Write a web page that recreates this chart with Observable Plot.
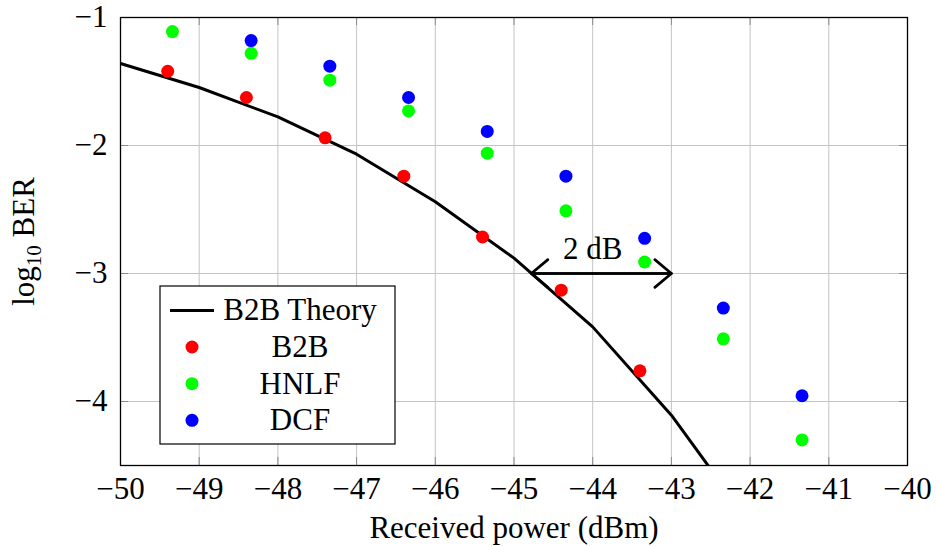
<!DOCTYPE html>
<html><head><meta charset="utf-8">
<script src="https://cdn.jsdelivr.net/npm/d3@7"></script>
<script src="https://cdn.jsdelivr.net/npm/@observablehq/plot@0.6"></script>
<style>body{margin:0;background:#fff;} svg{display:block}</style>
</head><body><div id="chart"></div>
<script>
// ---- data ----
const theoryX = [-50, -49, -48, -47, -46, -45, -44, -43, -42];
const theoryY = [-1.359, -1.547, -1.777, -2.068, -2.44, -2.88, -3.417, -4.107, -4.95];
const b2bX = [-49.40, -48.40, -47.40, -46.40, -45.40, -44.40, -43.40];
const b2bY = [-1.42, -1.625, -1.94, -2.24, -2.715, -3.13, -3.76];
const hnlfX = [-49.34, -48.34, -47.34, -46.34, -45.34, -44.34, -43.34, -42.34, -41.34];
const hnlfY = [-1.11, -1.28, -1.49, -1.73, -2.06, -2.51, -2.91, -3.51, -4.30];
const dcfX = [-48.34, -47.34, -46.34, -45.34, -44.34, -43.34, -42.34, -41.34];
const dcfY = [-1.18, -1.38, -1.625, -1.89, -2.24, -2.725, -3.27, -3.955];
const seriesNames = ["B2B Theory", "B2B", "HNLF", "DCF"];
const seriesColors = ["#000000", "#ff0000", "#00ff00", "#0000ff"];
const xTicks = [-50, -49, -48, -47, -46, -45, -44, -43, -42, -41, -40];
const yTicks = [-4, -3, -2, -1];
const arrowX = [-44.78, -43];
const arrowY = [-3, -3];
const arrowLabel = "2 dB";
const arrowLabelX = -44.0;
const xLabel = "Received power (dBm)";
const yLabel = "log10 BER";

// ---- layout ----
const W = 939, H = 547;
const mL = 120, mR = 32, mT = 17, mB = 82;
const plotW = W - mL - mR, plotH = H - mT - mB;
const FONT = "'Liberation Serif', 'Times New Roman', serif";
const FS = 31;
const tickLen = 8;
const fmt = d => String(d).replace("-", "\u2212");

const theory = theoryX.map((x, i) => ({x, y: theoryY[i]}));
const pts = (xs, ys) => xs.map((x, i) => ({x, y: ys[i]}));
const arrow = [{x1: arrowX[0], x2: arrowX[1], y1: arrowY[0], y2: arrowY[1]}];

const chart = Plot.plot({
  width: W, height: H,
  marginLeft: mL, marginRight: mR, marginTop: mT, marginBottom: mB,
  style: {fontFamily: FONT, fontSize: FS + "px", background: "white", color: "black"},
  x: {domain: [-50, -40]},
  y: {domain: [-4.5, -1]},
  marks: [
    Plot.gridX(xTicks, {stroke: "#c4c4c4", strokeOpacity: 1, strokeWidth: 1}),
    Plot.gridY(yTicks, {stroke: "#c4c4c4", strokeOpacity: 1, strokeWidth: 1}),
    Plot.tickX(xTicks, {x: d => d, insetTop: plotH - tickLen, stroke: "#8a8a8a", strokeWidth: 1}),
    Plot.tickX(xTicks, {x: d => d, insetBottom: plotH - tickLen, stroke: "#8a8a8a", strokeWidth: 1}),
    Plot.tickY(yTicks, {y: d => d, insetRight: plotW - tickLen, stroke: "#8a8a8a", strokeWidth: 1}),
    Plot.tickY(yTicks, {y: d => d, insetLeft: plotW - tickLen, stroke: "#8a8a8a", strokeWidth: 1}),
    Plot.axisX(xTicks, {tickSize: 0, tickPadding: 11, fontSize: FS, label: null, tickFormat: fmt}),
    Plot.axisY(yTicks, {tickSize: 0, tickPadding: 13, fontSize: FS, label: null, tickFormat: fmt}),
    Plot.line(theory, {x: "x", y: "y", stroke: seriesColors[0], strokeWidth: 3, clip: true}),
    Plot.dot(pts(b2bX, b2bY), {x: "x", y: "y", r: 6.5, fill: seriesColors[1], stroke: null}),
    Plot.dot(pts(hnlfX, hnlfY), {x: "x", y: "y", r: 6.5, fill: seriesColors[2], stroke: null}),
    Plot.dot(pts(dcfX, dcfY), {x: "x", y: "y", r: 6.5, fill: seriesColors[3], stroke: null}),
    Plot.arrow(arrow, {x1: "x2", y1: "y2", x2: "x1", y2: "y1", stroke: "black", strokeWidth: 2.7, headLength: 12, headAngle: 80}),
    Plot.arrow(arrow, {x1: "x1", y1: "y1", x2: "x2", y2: "y2", stroke: "black", strokeWidth: 2.7, headLength: 12, headAngle: 80}),
    Plot.text([arrowLabel], {x: arrowLabelX, y: arrowY[0], text: d => d, dy: -24, fontSize: FS, fill: "black", textAnchor: "middle", lineAnchor: "middle"}),
    Plot.text([xLabel], {frameAnchor: "bottom", text: d => d, dy: 63, fontSize: FS, fill: "black", textAnchor: "middle", lineAnchor: "middle"}),
    Plot.text([yLabel], {frameAnchor: "left", text: d => d, rotate: -90, dx: -96, fontSize: FS, fill: "black", textAnchor: "middle", lineAnchor: "middle"}),
    Plot.frame({stroke: "black", strokeWidth: 1.3})
  ]
});

const svg = d3.select(chart);
// subscript for y label
svg.selectAll("text").filter(function() { return this.textContent === yLabel; }).each(function() {
  const t = d3.select(this);
  t.text(null);
  t.append("tspan").text("log");
  t.append("tspan").attr("font-size", 21).attr("dy", 7).text("10");
  t.append("tspan").attr("dy", -7).text(" BER");
});

// legend
const lg = svg.append("g").attr("font-family", FONT).attr("font-size", FS);
const bx = 160, by = 286, bw = 235, bh = 158;
lg.append("rect").attr("x", bx).attr("y", by).attr("width", bw).attr("height", bh)
  .attr("fill", "white").attr("stroke", "black").attr("stroke-width", 1.2);
const rowY = [310.5, 347, 383.7, 420.3];
seriesNames.forEach((name, i) => {
  const y = rowY[i];
  if (i === 0) {
    lg.append("line").attr("x1", 170).attr("x2", 214).attr("y1", y).attr("y2", y)
      .attr("stroke", seriesColors[0]).attr("stroke-width", 3);
  } else {
    lg.append("circle").attr("cx", 192).attr("cy", y).attr("r", 6.5).attr("fill", seriesColors[i]);
  }
  lg.append("text").attr("x", 300).attr("y", y).attr("dy", "0.32em")
    .attr("text-anchor", "middle").attr("fill", "black").text(name);
});

document.getElementById("chart").appendChild(chart);
</script>
</body></html>
